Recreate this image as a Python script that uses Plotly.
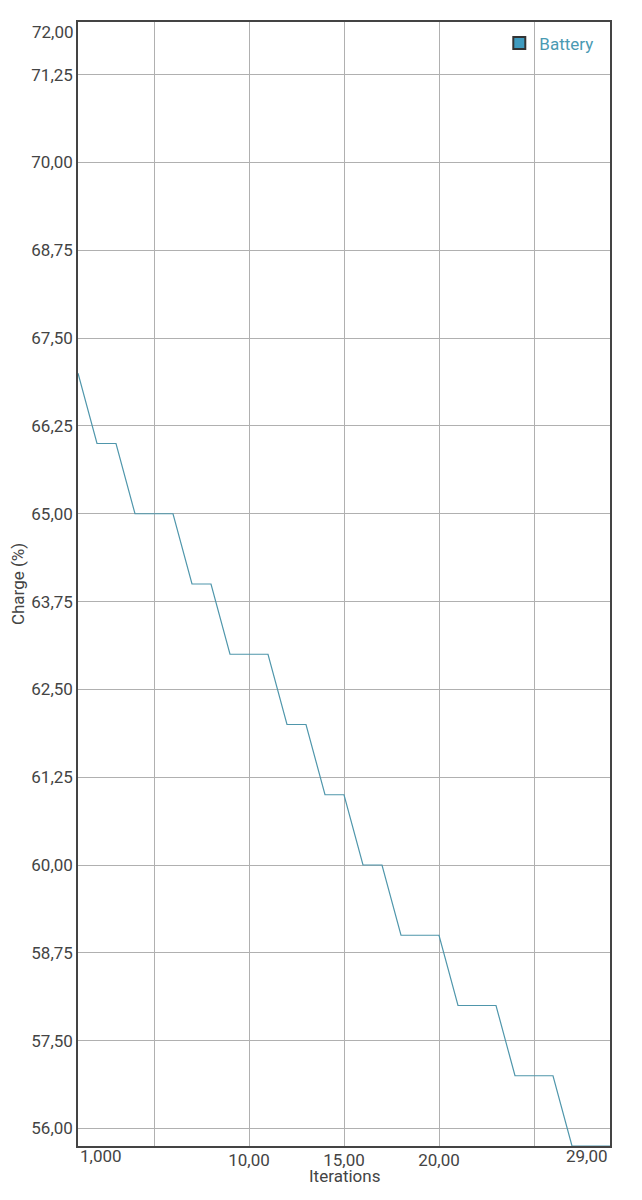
import plotly.graph_objects as go

iterations = list(range(1, 30))
charge = [67, 66, 66, 65, 65, 65, 64, 64, 63, 63, 63, 62, 62, 61, 61, 60, 60,
          59, 59, 59, 58, 58, 58, 57, 57, 57, 56, 56, 56]

y_tickvals = [56.25, 57.5, 58.75, 60, 61.25, 62.5, 63.75, 65, 66.25, 67.5,
              68.75, 70, 71.25, 72]
y_ticktext = ["56,00", "57,50", "58,75", "60,00", "61,25", "62,50", "63,75",
              "65,00", "66,25", "67,50", "68,75", "70,00", "71,25", ""]
x_tickvals = [1, 5, 10, 15, 20, 25, 29]
x_ticktext = ["", "", "10,00", "15,00", "20,00", "", ""]

# edge labels that the original keeps inside the frame
edge_x = [(1, "1,000", "left"), (29, "29,00", "right")]
edge_y = (72, "72,00")

line_color = "#4f96ab"
font_color = "#444444"
fs = 17

fig = go.Figure()
fig.add_trace(go.Scatter(x=iterations, y=charge, mode="lines",
                         line=dict(color=line_color, width=1.2),
                         showlegend=False, name="Battery"))
fig.add_trace(go.Scatter(x=[None], y=[None], mode="markers", name="Battery",
                         marker=dict(symbol="square", size=17, color="#3f9bbf",
                                     line=dict(color="#333333", width=1.6))))

for xv, txt, anc in edge_x:
    fig.add_annotation(x=xv, y=0, xref="x", yref="paper", text=txt,
                       showarrow=False, xanchor=anc, yanchor="top", yshift=2,
                       font=dict(size=fs, color=font_color))
fig.add_annotation(x=0, y=edge_y[0], xref="paper", yref="y", text=edge_y[1],
                   showarrow=False, xanchor="right", yanchor="top", xshift=-2,
                   yshift=2, font=dict(size=fs, color=font_color))
fig.add_annotation(x=0.5, y=0, xref="paper", yref="paper", text="Iterations",
                   showarrow=False, xanchor="center", yanchor="top", yshift=-18,
                   font=dict(size=fs, color=font_color))

fig.update_layout(
    width=642, height=1200,
    margin=dict(l=70, r=40, t=14, b=62),
    paper_bgcolor="white", plot_bgcolor="white",
    font=dict(family="Roboto", size=fs, color=font_color),
    legend=dict(x=0.978, y=0.997, xanchor="right", yanchor="top",
                bgcolor="rgba(0,0,0,0)", font=dict(color="#4a9ab3", size=fs),
                itemsizing="constant", itemwidth=30),
    xaxis=dict(range=[1, 29], tickvals=x_tickvals, ticktext=x_ticktext,
               automargin=False, ticklabelstandoff=-2,
               showgrid=True, gridcolor="#b0b0b0", gridwidth=1,
               showline=True, linecolor="#444444", linewidth=1.5, mirror=True,
               zeroline=False, ticks="", tickfont=dict(size=fs, color=font_color)),
    yaxis=dict(range=[56, 72], tickvals=y_tickvals, ticktext=y_ticktext,
               automargin=False,
               showgrid=True, gridcolor="#b0b0b0", gridwidth=1,
               showline=True, linecolor="#444444", linewidth=1.5, mirror=True,
               zeroline=False, ticks="", tickfont=dict(size=fs, color=font_color),
               title=dict(text="Charge (%)", standoff=6,
                          font=dict(size=fs, color=font_color))),
)

fig.write_html("out.html")
